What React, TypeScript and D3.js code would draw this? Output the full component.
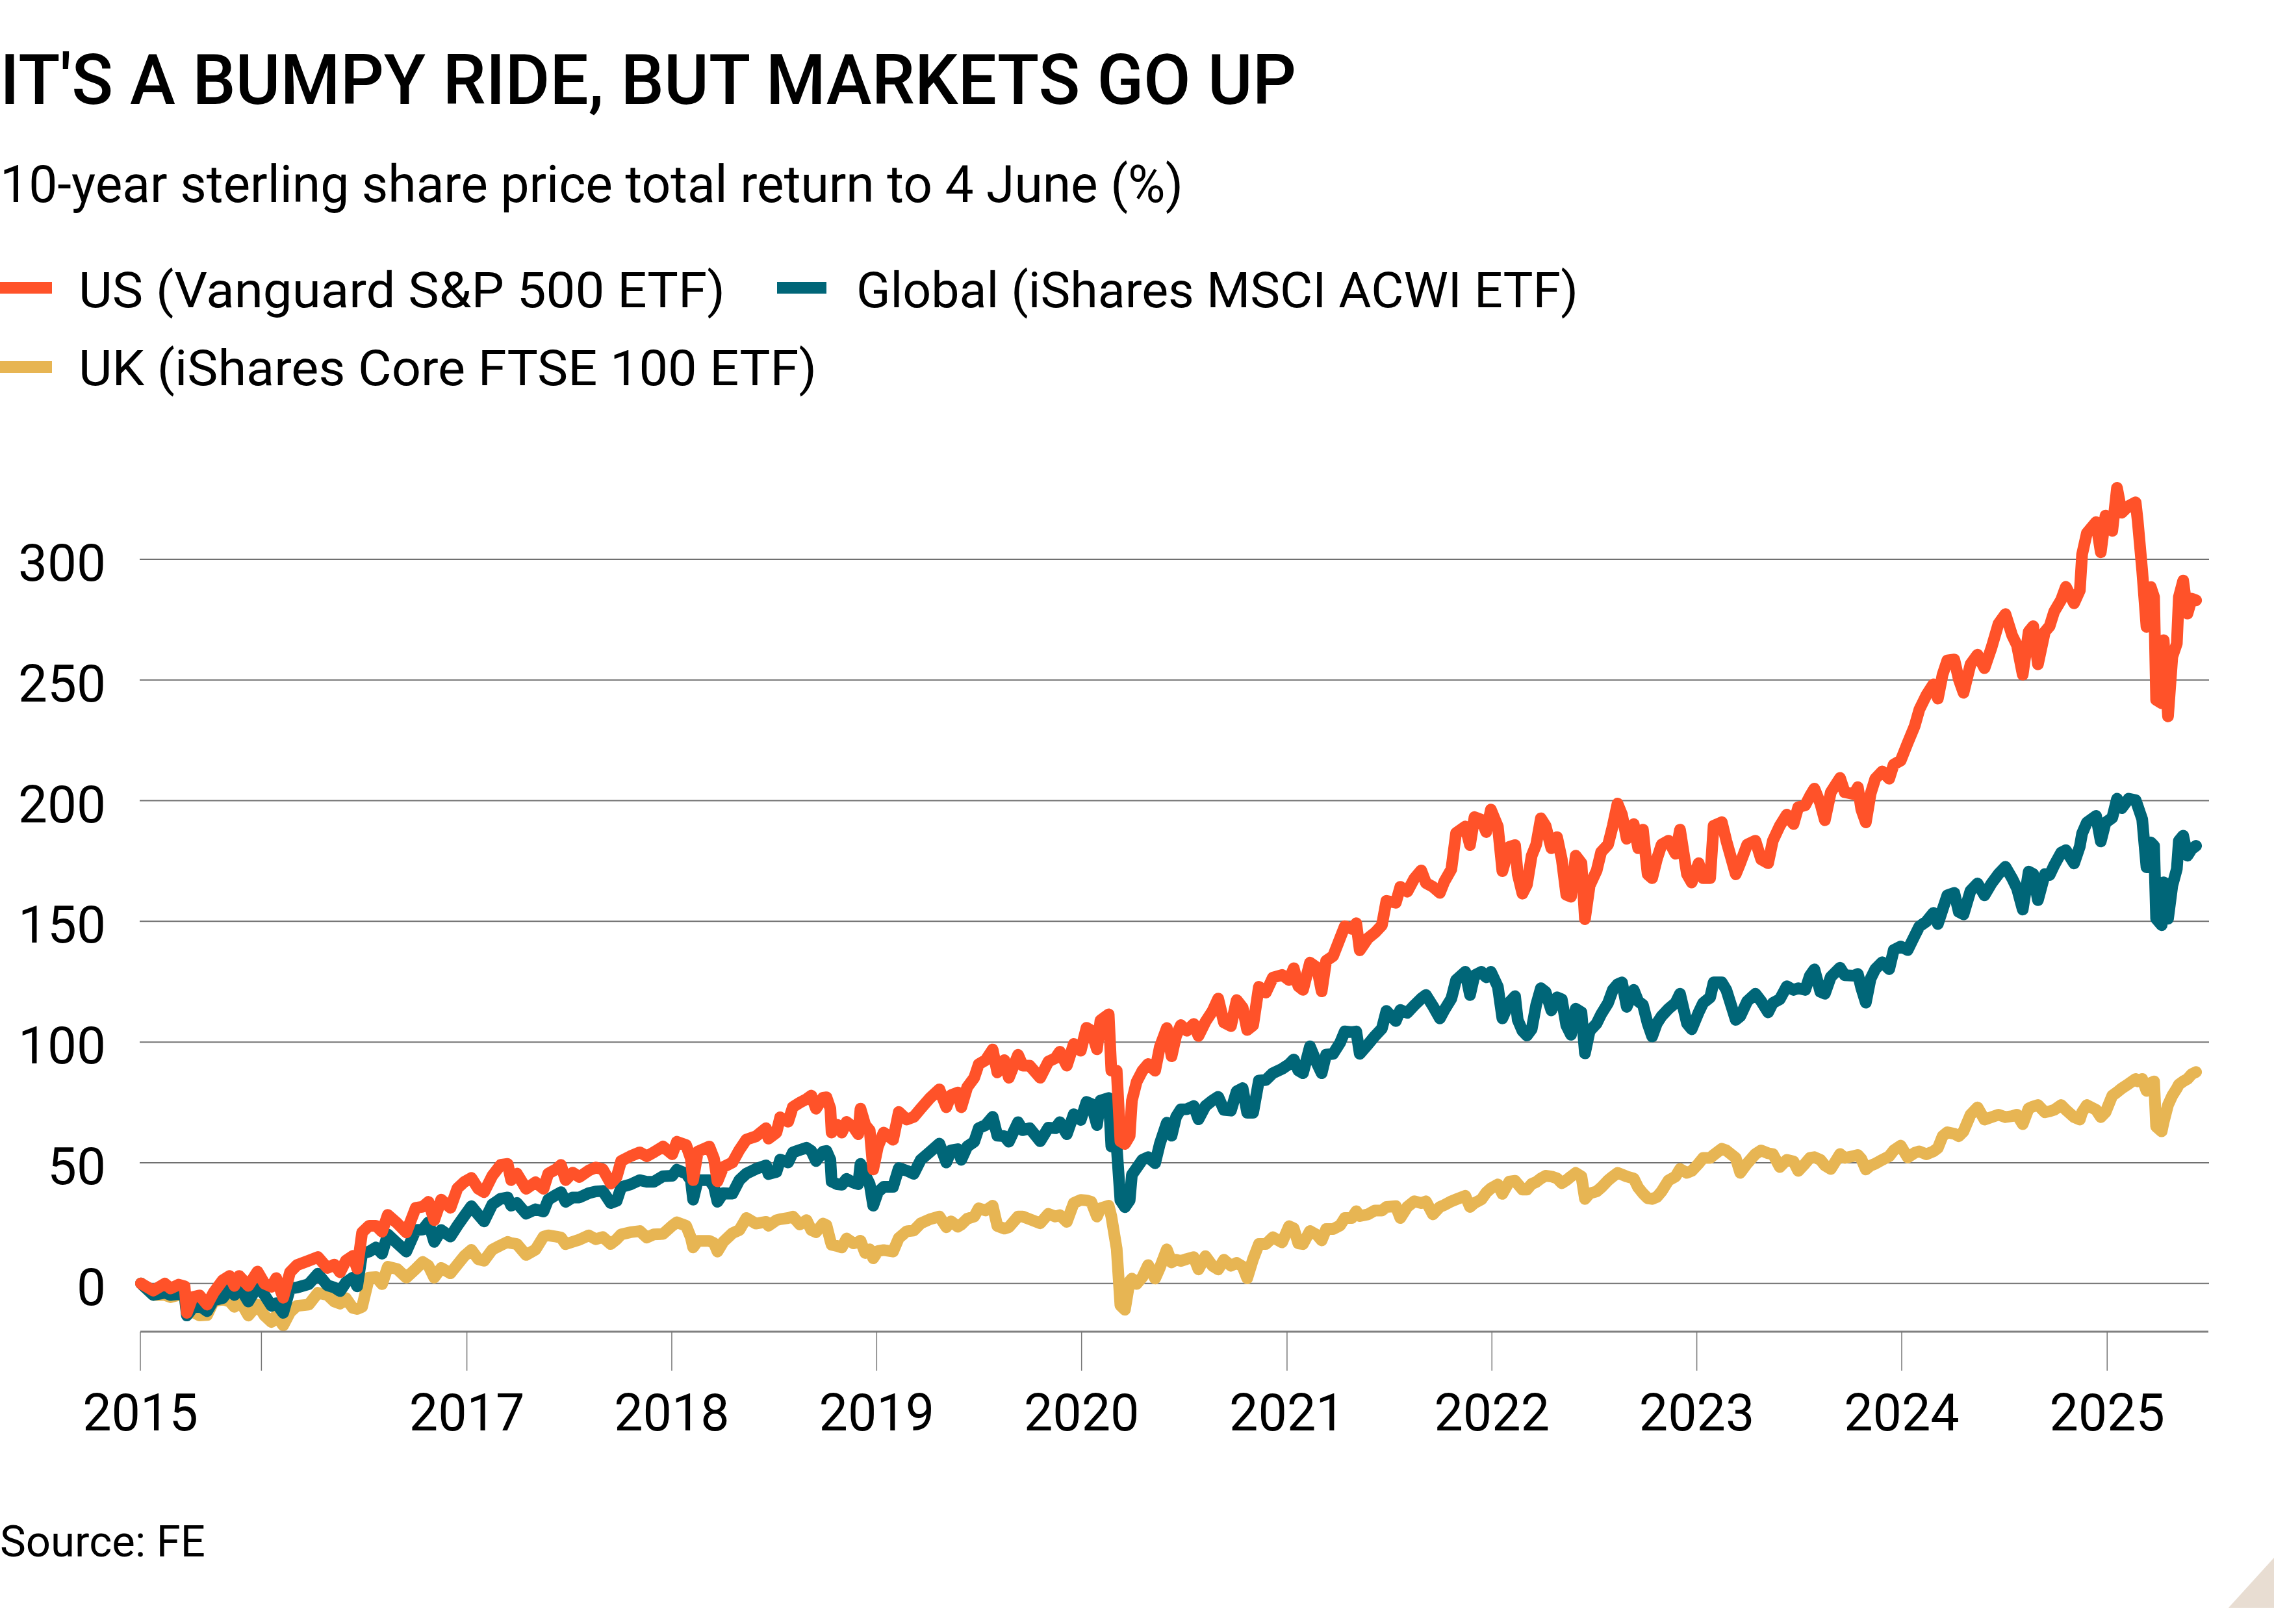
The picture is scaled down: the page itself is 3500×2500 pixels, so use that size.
import React from "react";
import * as d3 from "d3";

// ---------- text ----------
const titleText = "IT'S A BUMPY RIDE, BUT MARKETS GO UP";
const subtitleText = "10-year sterling share price total return to 4 June (%)";
const sourceText = "Source: FE";
const seriesNames = [
  "US (Vanguard S&P 500 ETF)",
  "Global (iShares MSCI ACWI ETF)",
  "UK (iShares Core FTSE 100 ETF)",
];
const seriesColors = ["#ff5229", "#006678", "#e7b553"];

// ---------- axes ----------
const yTicks = [0, 50, 100, 150, 200, 250, 300];
const xTickYears = [2015.409, 2016, 2017, 2018, 2019, 2020, 2021, 2022, 2023, 2024, 2025];
const xTickLabels = ["2015", "", "2017", "2018", "2019", "2020", "2021", "2022", "2023", "2024", "2025"];
const xDomainYears = [2015.409, 2025.494];
const yDomain = [-20, 300];

// ---------- data (decimal year, % total return) ----------
const dates = [
  2015.412, 2015.472, 2015.529, 2015.557, 2015.596, 2015.625, 2015.636, 2015.664, 2015.698, 2015.735,
  2015.766, 2015.811, 2015.845, 2015.868, 2015.891, 2015.936, 2015.981, 2016.015, 2016.049, 2016.072,
  2016.106, 2016.139, 2016.173, 2016.23, 2016.275, 2016.321, 2016.355, 2016.383, 2016.411, 2016.445,
  2016.466, 2016.49, 2016.524, 2016.558, 2016.587, 2016.615, 2016.66, 2016.705, 2016.751, 2016.785,
  2016.813, 2016.841, 2016.875, 2016.92, 2016.954, 2016.988, 2017.022, 2017.056, 2017.084, 2017.124,
  2017.165, 2017.199, 2017.216, 2017.244, 2017.289, 2017.335, 2017.374, 2017.397, 2017.436, 2017.459,
  2017.482, 2017.516, 2017.549, 2017.595, 2017.629, 2017.663, 2017.702, 2017.731, 2017.753, 2017.798,
  2017.844, 2017.878, 2017.912, 2017.957, 2018.002, 2018.025, 2018.07, 2018.093, 2018.104, 2018.127,
  2018.183, 2018.206, 2018.223, 2018.251, 2018.296, 2018.33, 2018.364, 2018.41, 2018.46, 2018.472,
  2018.511, 2018.529, 2018.568, 2018.591, 2018.625, 2018.658, 2018.681, 2018.704, 2018.738, 2018.755,
  2018.774, 2018.78, 2018.808, 2018.83, 2018.853, 2018.887, 2018.91, 2018.921, 2018.944, 2018.966,
  2018.983, 2019.006, 2019.034, 2019.08, 2019.108, 2019.147, 2019.181, 2019.215, 2019.26, 2019.306,
  2019.34, 2019.363, 2019.396, 2019.413, 2019.442, 2019.476, 2019.498, 2019.532, 2019.566, 2019.589,
  2019.623, 2019.645, 2019.69, 2019.713, 2019.747, 2019.798, 2019.838, 2019.872, 2019.894, 2019.928,
  2019.962, 2019.996, 2020.024, 2020.047, 2020.075, 2020.092, 2020.132, 2020.145, 2020.171, 2020.189,
  2020.211, 2020.234, 2020.245, 2020.268, 2020.296, 2020.324, 2020.358, 2020.381, 2020.415, 2020.438,
  2020.46, 2020.483,
  2020.512, 2020.546, 2020.569, 2020.603, 2020.637, 2020.665, 2020.693, 2020.727, 2020.755, 2020.784,
  2020.806, 2020.835, 2020.863, 2020.897, 2020.931, 2020.976, 2021.01, 2021.033, 2021.055, 2021.078,
  2021.112, 2021.146, 2021.169, 2021.191, 2021.225, 2021.259, 2021.282, 2021.316, 2021.338, 2021.355,
  2021.395, 2021.429, 2021.463, 2021.485, 2021.531, 2021.553, 2021.587, 2021.621, 2021.655, 2021.678,
  2021.712, 2021.746, 2021.768, 2021.802, 2021.825, 2021.87, 2021.893, 2021.915, 2021.949, 2021.972,
  2021.995, 2022.029, 2022.051, 2022.085, 2022.113,
  2022.126, 2022.149, 2022.171, 2022.194, 2022.216, 2022.239, 2022.262, 2022.29, 2022.318, 2022.341,
  2022.363, 2022.386, 2022.409, 2022.437, 2022.454, 2022.477, 2022.511, 2022.533, 2022.567, 2022.59,
  2022.613, 2022.635, 2022.658, 2022.692, 2022.714, 2022.737, 2022.76, 2022.782, 2022.805, 2022.828,
  2022.862, 2022.896, 2022.918, 2022.952, 2022.975, 2023.009, 2023.031, 2023.065, 2023.082, 2023.122,
  2023.144, 2023.19, 2023.212, 2023.246, 2023.286, 2023.314, 2023.348, 2023.371, 2023.405, 2023.439,
  2023.472, 2023.495, 2023.529, 2023.552, 2023.574, 2023.603, 2023.625, 2023.654, 2023.699, 2023.722,
  2023.767,
  2023.786, 2023.803, 2023.825, 2023.848, 2023.871, 2023.905, 2023.939, 2023.961, 2023.995, 2024.029,
  2024.063, 2024.086, 2024.12, 2024.154, 2024.176, 2024.199, 2024.222, 2024.256, 2024.278, 2024.301,
  2024.335, 2024.369, 2024.403, 2024.437, 2024.471, 2024.505, 2024.538, 2024.561, 2024.589, 2024.618,
  2024.64, 2024.663, 2024.697, 2024.72, 2024.742, 2024.776, 2024.799, 2024.839, 2024.867, 2024.878,
  2024.901, 2024.946, 2024.969, 2024.992, 2025.025, 2025.048, 2025.071, 2025.105, 2025.139,
  2025.149, 2025.171, 2025.192, 2025.213, 2025.229, 2025.239, 2025.266, 2025.276, 2025.297, 2025.318,
  2025.34, 2025.35, 2025.371, 2025.392, 2025.413, 2025.434,
];

const usValues = [
  0, -3.0, -0.1, -2.1, -0.5, -1.2, -12.2, -5.7, -5.0, -8.8,
  -3.9, 1.3, 3.1, -1.0, 3.1, -1.0, 4.9, -0.1, -1.4, 2.2,
  -5.9, 4.6, 7.6, 9.4, 10.9, 6.4, 7.8, 4.6, 9.4, 11.4,
  6.1, 21.1, 23.9, 23.9, 21.4, 28.4, 25.0, 21.1, 31.3, 31.8,
  33.8, 26.2, 34.7, 31.3, 39.4, 42.1, 43.7, 39.2, 37.8, 44.6,
  49.1, 49.5, 42.8, 45.5, 39.2, 41.9, 39.2, 45.5, 47.3, 49.1,
  42.8, 45.9, 44.1, 46.8, 48.0, 47.3, 41.4, 44.1, 50.7, 52.7,
  54.3, 52.7, 54.3, 56.7, 53.5, 58.7, 57.3, 51.7, 42.8, 54.6,
  56.7, 51.7, 42.3, 48.2, 50.1, 55.3, 59.6, 60.9, 64.3, 60.0,
  62.5, 68.8, 67.0, 73.1, 74.9, 76.4, 77.8, 72.4, 76.9, 77.1,
  72.4, 62.5, 65.7, 62.5, 66.9, 64.7, 61.8, 72.4, 65.7, 63.4,
  47.2, 56.7, 62.5, 59.5, 71.0, 67.9, 69.0, 72.4, 76.8, 80.4,
  73.0, 78.0, 79.1, 73.0, 81.3, 85.2, 90.8, 92.5, 96.9, 87.4,
  92.5, 85.2, 94.7, 90.2, 90.2, 85.2, 91.9, 93.3, 96.0, 90.2,
  99.2, 96.4, 105.9, 104.8, 97.0, 109.0, 111.5, 88.1, 88.1, 58.9,
  57.8, 61.1, 75.7, 83.5, 88.1, 90.9, 88.1, 98.0, 105.8, 94.1,
  102.5, 107.0,
  104.7, 107.5, 102.5, 108.4, 112.8, 118.0, 108.1, 106.6, 117.4, 114.3,
  105.0, 106.9, 122.9, 120.5, 126.7, 127.8, 125.7, 130.6, 123.2, 121.6,
  132.9, 130.9, 121.0, 133.7, 135.6, 143.0, 148.0, 146.9, 149.2, 138.0,
  143.0, 145.3, 148.4, 158.5, 157.7, 164.3, 162.3, 167.7, 171.1, 165.9,
  164.3, 161.8, 166.5, 171.6, 186.6, 189.3, 181.6, 193.2, 192.1, 187.0,
  196.3, 189.3, 170.8, 180.9, 181.6,
  169.5, 161.5, 165.2, 177.2, 181.8, 192.7, 189.6, 180.3, 184.9, 175.7,
  161.0, 160.2, 177.2, 174.1, 150.9, 164.8, 171.0, 178.7, 181.8, 189.6,
  198.8, 194.2, 184.2, 190.3, 180.3, 188.0, 169.5, 167.9, 175.7, 181.8,
  183.4, 178.0, 188.0, 169.5, 166.1, 174.1, 167.9, 167.9, 189.6, 191.1,
  183.4, 169.5, 174.1, 181.8, 183.4, 175.7, 174.1, 183.4, 189.6, 194.2,
  190.3, 197.3, 198.1, 201.9, 205.0, 198.8, 191.9, 203.5, 209.4, 203.5,
  202.7,
  205.6, 196.3, 191.0, 202.8, 209.1, 212.1, 209.1, 215.0, 216.6, 223.9,
  230.9, 237.8, 243.7, 248.2, 242.3, 252.2, 258.1, 258.5, 250.2, 244.7,
  256.5, 260.5, 254.9, 263.4, 273.3, 277.3, 268.4, 264.4, 252.2, 270.0,
  272.3, 256.5, 270.0, 272.3, 278.3, 283.2, 288.6, 281.8, 287.1, 302.0,
  310.8, 315.4, 302.9, 318.1, 311.8, 329.6, 319.3, 322.1, 323.6,
  316.0, 295.3, 272.0, 288.5, 284.4, 241.8, 240.4, 266.5, 234.9, 259.6,
  265.1, 284.4, 291.2, 277.5, 283.7, 283.0,
];

const globalValues = [
  0, -4.8, -3.9, -4.8, -4.4, -4.8, -13.3, -10.2, -9.3, -11.5,
  -7.0, -6.1, -2.1, -4.8, -1.2, -7.5, -1.2, -4.8, -9.3, -8.2,
  -12.2, -2.1, -1.7, -0.3, 4.0, -0.8, -1.7, -3.2, 0.4, 2.4,
  -1.2, 12.3, 13.2, 14.9, 12.3, 20.3, 16.7, 13.2, 22.1, 22.3,
  25.3, 17.2, 22.1, 19.4, 23.9, 28.0, 32.0, 28.4, 25.7, 32.7,
  35.1, 35.6, 32.2, 33.3, 28.9, 30.7, 29.8, 34.7, 36.7, 37.8,
  33.8, 35.6, 35.6, 37.4, 38.1, 38.3, 33.3, 34.2, 39.9, 41.0,
  42.8, 42.1, 42.1, 44.4, 44.6, 47.1, 45.5, 42.8, 34.7, 42.8,
  42.8, 40.1, 33.8, 37.4, 37.2, 42.8, 45.5, 47.4, 48.9, 45.3,
  46.2, 51.3, 50.1, 54.3, 55.3, 56.2, 54.9, 50.7, 54.6, 54.9,
  51.2, 42.2, 41.1, 40.9, 43.3, 41.7, 41.1, 49.5, 45.0, 41.1,
  32.2, 37.8, 40.0, 40.0, 47.8, 46.7, 45.4, 51.2, 54.5, 57.9,
  50.1, 55.1, 55.6, 51.2, 56.7, 58.7, 64.3, 65.6, 69.0, 61.2,
  61.0, 58.7, 66.8, 63.5, 64.3, 58.9, 64.5, 64.3, 66.8, 61.8,
  70.1, 67.7, 75.2, 74.4, 65.6, 75.7, 76.8, 56.7, 56.7, 34.4,
  31.6, 34.4, 45.0, 47.8, 51.2, 52.3, 49.8, 57.9, 66.6, 61.2,
  69.0, 72.1,
  72.2, 73.5, 68.0, 73.5, 75.8, 77.3, 71.9, 71.6, 79.6, 80.9,
  70.7, 70.7, 84.0, 84.3, 87.1, 88.9, 90.8, 92.8, 88.2, 87.1,
  98.2, 91.2, 87.1, 94.8, 95.1, 99.7, 104.4, 104.1, 104.4, 95.1,
  99.0, 102.5, 105.6, 112.9, 108.7, 113.3, 112.1, 115.2, 118.0, 119.5,
  114.9, 109.8, 113.3, 118.0, 125.7, 129.1, 119.5, 127.6, 129.1, 126.8,
  129.1, 122.9, 109.8, 116.4, 119.0,
  109.2, 104.6, 102.7, 105.3, 115.4, 122.3, 120.8, 113.1, 118.5, 117.7,
  106.9, 103.0, 113.8, 112.3, 95.3, 104.6, 107.7, 111.5, 116.2, 121.6,
  123.9, 124.7, 114.6, 121.6, 116.9, 115.4, 107.7, 102.3, 107.7, 110.7,
  113.8, 116.2, 120.0, 107.7, 105.3, 112.3, 116.2, 118.5, 124.7, 124.7,
  121.6, 109.2, 110.7, 116.9, 120.0, 116.9, 112.3, 116.2, 117.7, 123.1,
  121.6, 122.3, 121.6, 127.5, 130.1, 120.8, 120.0, 127.0, 130.8, 127.7,
  127.5,
  128.2, 122.3, 116.3, 126.2, 130.2, 133.1, 130.2, 138.1, 139.6, 138.1,
  144.0, 147.9, 149.9, 153.5, 148.9, 154.9, 160.8, 161.8, 153.9, 152.9,
  162.7, 165.7, 160.8, 165.7, 169.6, 172.6, 167.7, 163.7, 154.9, 170.6,
  169.6, 158.8, 169.6, 169.2, 173.2, 178.5, 179.5, 174.0, 181.1, 186.4,
  190.9, 193.7, 183.1, 190.9, 192.9, 200.8, 196.9, 200.8, 200.2,
  197.8, 192.3, 172.4, 182.7, 181.3, 151.1, 148.4, 166.2, 151.1, 164.8,
  171.7, 183.4, 185.5, 177.2, 180.0, 181.3,
];

const ukValues = [
  0, -4.8, -4.8, -5.7, -4.8, -4.8, -12.2, -11.8, -13.3, -13.1,
  -7.5, -6.6, -7.5, -9.7, -6.6, -13.3, -8.8, -13.3, -16.0, -13.3,
  -17.4, -12.0, -9.3, -8.8, -3.9, -4.8, -7.5, -8.4, -6.1, -10.2,
  -10.6, -9.7, 2.4, 2.6, -0.3, 6.9, 6.0, 2.4, 6.0, 8.9,
  7.3, 2.4, 6.4, 4.2, 7.8, 11.4, 13.9, 10.0, 9.4, 14.0,
  15.8, 17.2, 16.7, 16.3, 11.8, 14.0, 19.4, 19.9, 19.4, 19.0,
  16.3, 17.2, 18.1, 19.9, 18.3, 19.2, 16.3, 18.3, 20.3, 21.2,
  21.7, 19.0, 20.3, 20.5, 23.9, 25.3, 23.9, 19.0, 14.9, 17.6,
  17.6, 16.7, 13.2, 17.2, 20.8, 22.1, 27.1, 24.8, 25.5, 23.9,
  26.2, 26.6, 27.1, 27.7, 24.4, 26.2, 22.1, 21.2, 24.8, 24.1,
  17.7, 16.0, 15.5, 14.9, 18.6, 16.6, 17.1, 17.7, 12.6, 14.1,
  10.4, 13.4, 13.8, 13.2, 18.8, 21.6, 21.9, 24.9, 26.6, 27.7,
  23.3, 25.7, 23.5, 24.4, 26.8, 27.7, 31.1, 30.2, 32.2, 23.8,
  22.7, 23.3, 27.7, 27.7, 26.6, 24.9, 28.8, 27.7, 28.3, 25.5,
  33.3, 34.6, 34.4, 33.8, 27.7, 31.1, 32.2, 27.7, 14.3, -9.1,
  -10.9, 0.9, 2.0, -0.2, 2.6, 7.6, 2.0, 6.5, 14.1, 8.7,
  9.8, 9.3,
  10.1, 10.9, 5.8, 11.3, 7.3, 5.8, 9.8, 7.3, 8.5, 7.0,
  2.1, 10.1, 16.3, 16.3, 19.1, 17.0, 23.7, 22.8, 16.6, 16.3,
  21.7, 20.1, 17.8, 22.5, 22.5, 24.0, 27.1, 27.1, 29.9, 27.9,
  28.6, 30.2, 30.2, 31.7, 32.0, 27.1, 31.7, 34.0, 33.3, 34.0,
  28.6, 31.7, 32.5, 34.0, 34.8, 36.3, 31.7, 33.3, 34.8, 37.6,
  39.4, 41.0, 37.1, 42.2, 42.5,
  41.2, 38.9, 38.9, 41.2, 42.0, 43.5, 44.6, 44.3, 43.5, 41.5,
  42.7, 44.3, 45.8, 44.3, 35.0, 37.3, 38.1, 39.7, 42.7, 44.3,
  45.8, 45.1, 44.3, 43.5, 39.7, 37.3, 35.3, 35.0, 35.8, 38.1,
  42.7, 44.3, 47.4, 45.8, 46.6, 49.7, 52.0, 52.0, 53.2, 55.8,
  55.1, 52.0, 45.8, 49.7, 53.6, 55.1, 53.9, 53.6, 48.2, 51.2,
  50.5, 46.6, 49.7, 52.0, 52.3, 51.2, 48.9, 47.4, 53.6, 52.0,
  52.8,
  53.2, 51.6, 47.2, 48.8, 49.6, 51.2, 52.7, 55.1, 57.1, 52.2,
  54.1, 54.7, 53.5, 54.7, 56.1, 61.0, 62.6, 62.0, 61.0, 63.0,
  69.9, 72.9, 67.9, 68.9, 69.9, 68.9, 69.3, 69.9, 66.0, 72.5,
  73.3, 73.9, 70.9, 71.3, 71.9, 73.9, 71.9, 68.9, 67.9, 70.9,
  73.9, 71.9, 68.9, 70.9, 77.8, 79.2, 80.8, 82.7, 84.7,
  83.7, 84.7, 79.8, 83.1, 83.7, 65.0, 63.0, 67.0, 73.9, 77.8,
  80.8, 82.4, 83.7, 84.7, 86.7, 87.6,
];

// ---------- helpers ----------
const toDate = (t: number) => {
  const yr = Math.floor(t);
  const a = Date.UTC(yr, 0, 1);
  const b = Date.UTC(yr + 1, 0, 1);
  return new Date(a + (t - yr) * (b - a));
};

const W = 3500;
const H = 2500;
const FONT = "Roboto, 'Noto Sans', Arial, sans-serif";

export default function App() {
  const x = d3
    .scaleUtc()
    .domain([toDate(xDomainYears[0]), toDate(xDomainYears[1])])
    .range([216, 3399]);
  const y = d3.scaleLinear().domain(yDomain).range([2050, 861]);

  const seriesValues = [usValues, globalValues, ukValues];
  const series = seriesValues.map((vals, i) => ({
    name: seriesNames[i],
    color: seriesColors[i],
    points: dates.map((t, j) => ({ date: toDate(t), v: vals[j] })),
  }));

  const line = d3
    .line<{ date: Date; v: number }>()
    .x((d) => x(d.date))
    .y((d) => y(d.v))
    .curve(d3.curveLinear);

  // draw order: UK, Global, US (US on top)
  const drawOrder = [2, 1, 0];

  const gridX0 = 215;
  const gridX1 = 3400;

  return (
    <svg
      width={W}
      height={H}
      viewBox={`0 0 ${W} ${H}`}
      style={{ position: "absolute", left: 0, top: 0, display: "block", background: "#ffffff" }}
      fontFamily={FONT}
    >
      <rect x={0} y={0} width={W} height={H} fill="#ffffff" />

      {/* Title & subtitle */}
      <text x={0} y={160} fontSize={108} fontWeight={500} fill="#000" textLength={1995} lengthAdjust="spacingAndGlyphs">
        {titleText}
      </text>
      <text x={0} y={311} fontSize={79} fontWeight={400} fill="#000" textLength={1821} lengthAdjust="spacingAndGlyphs">
        {subtitleText}
      </text>

      {/* Legend */}
      <g>
        <rect x={0} y={434} width={80} height={18} fill={seriesColors[0]} />
        <text x={121} y={473} fontSize={76} fill="#000" textLength={995} lengthAdjust="spacingAndGlyphs">
          {seriesNames[0]}
        </text>
        <rect x={1196} y={434} width={76} height={18} fill={seriesColors[1]} />
        <text x={1318} y={473} fontSize={76} fill="#000" textLength={1111} lengthAdjust="spacingAndGlyphs">
          {seriesNames[1]}
        </text>
        <rect x={0} y={556} width={80} height={18} fill={seriesColors[2]} />
        <text x={121} y={593} fontSize={76} fill="#000" textLength={1136} lengthAdjust="spacingAndGlyphs">
          {seriesNames[2]}
        </text>
      </g>

      {/* Gridlines + y labels */}
      <g>
        {yTicks.map((t) => (
          <g key={t}>
            <line x1={gridX0} x2={gridX1} y1={y(t)} y2={y(t)} stroke="#707070" strokeWidth={2} />
            <text x={163} y={y(t) + 33} fontSize={80} textAnchor="end" fill="#000">
              {t}
            </text>
          </g>
        ))}
      </g>

      {/* Series lines */}
      <g fill="none" strokeLinejoin="round" strokeLinecap="round">
        {drawOrder.map((i) => (
          <path key={i} d={line(series[i].points) || ""} stroke={series[i].color} strokeWidth={18} />
        ))}
      </g>

      {/* X axis */}
      <g>
        <line x1={216} x2={3399} y1={2050} y2={2050} stroke="#808080" strokeWidth={3} />
        {xTickYears.map((t, i) => {
          const xp = x(toDate(t));
          return (
            <g key={t}>
              <line x1={xp} x2={xp} y1={2050} y2={2110} stroke="#777777" strokeWidth={1.5} />
              {xTickLabels[i] ? (
                <text x={xp} y={2202} fontSize={79} textAnchor="middle" fill="#000">
                  {xTickLabels[i]}
                </text>
              ) : null}
            </g>
          );
        })}
      </g>

      {/* Source */}
      <text x={0} y={2396} fontSize={67} fill="#000" textLength={316} lengthAdjust="spacingAndGlyphs">
        {sourceText}
      </text>

      {/* corner mark */}
      <polygon points={`3430,2475 3500,2398 3500,2475`} fill="#e8ddd2" />
    </svg>
  );
}
